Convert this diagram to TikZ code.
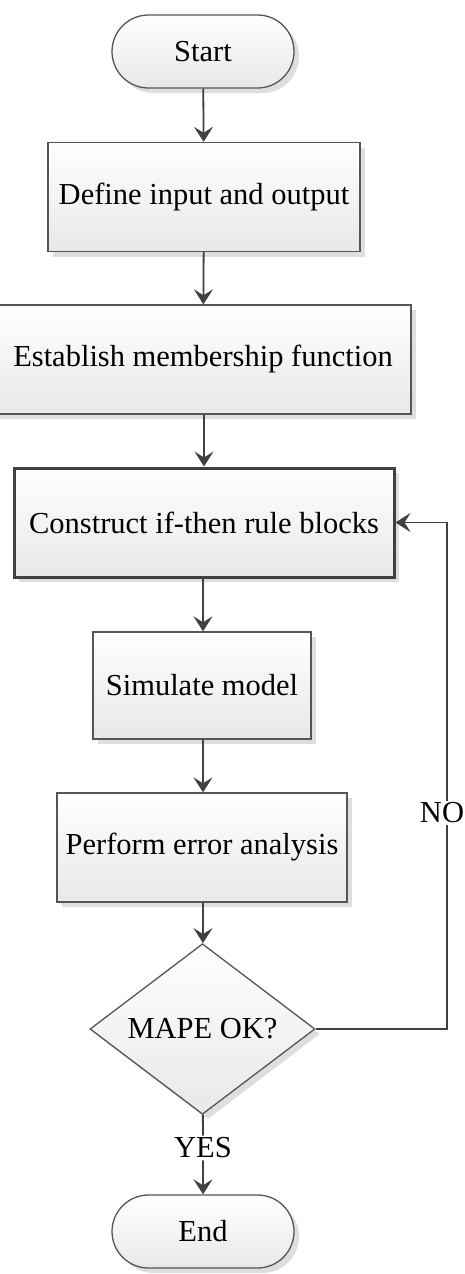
\documentclass[tikz,border=0pt]{standalone}
\usepackage{fontspec}
\setmainfont{Liberation Serif}
\usetikzlibrary{shapes.misc,shapes.geometric,arrows.meta,shadows}
\definecolor{lc}{HTML}{404040}
\definecolor{bc}{HTML}{555555}
\begin{document}
\begin{tikzpicture}[x=1pt,y=-1pt,
  base/.style={draw=bc, line width=1.3pt, top color=white, bottom color=black!9,
    font=\fontsize{30.5}{36}\selectfont, inner sep=0pt, align=center,
    drop shadow={shadow xshift=5pt, shadow yshift=-5pt, fill=black!13, opacity=1}},
  term/.style={base, rounded rectangle, minimum width=182pt, minimum height=73pt},
  proc/.style={base, rectangle, minimum height=109pt},
  dec/.style={base, diamond, minimum width=225pt, minimum height=142pt},
  arr/.style={draw=lc, line width=1.8pt, -{Stealth[length=15pt,width=19pt,inset=6pt]}},
  ln/.style={draw=lc, line width=1.8pt},
  lbl/.style={fill=white, inner sep=2pt, font=\fontsize{30.5}{36}\selectfont}]
\useasboundingbox (0,0) rectangle (465,1274);
\fill[white] (0,0) rectangle (465,1274);
\node[term] (start) at (203,51.5) {Start};
\node[proc, minimum width=312pt] (define) at (204,197) {Define input and output};
\node[proc, minimum width=416pt] (establish) at (203,359.5) {Establish membership function};
\node[proc, minimum width=380pt, draw=lc, line width=3pt] (construct) at (204,522.5) {Construct if-then rule blocks};
\node[proc, minimum width=218pt, minimum height=107pt] (simulate) at (202,685.5) {Simulate model};
\node[proc, minimum width=290pt] (perform) at (202,847.5) {Perform error analysis};
\node[dec] (decision) at (202.5,1029) {MAPE OK?};
\node[term] (end) at (203,1231.5) {End};
\node[lbl] (yes) at (203,1148) {YES};
\node[lbl] (no) at (442,813) {NO};
\coordinate (c1) at (447,1029);
\coordinate (c2) at (447,522.5);
\draw[arr] (start) -- (define);
\draw[arr] (define) -- (establish);
\draw[arr] (establish.south -| construct.north) -- (construct);
\draw[arr] (construct.south -| establish.south) -- (simulate.north -| establish.south);
\draw[arr] (simulate.south -| establish.south) -- (perform.north -| establish.south);
\draw[arr] (perform.south -| establish.south) -- (decision.north -| establish.south);
\draw[ln] (decision) -- (yes);
\draw[arr] (yes) -- (end);
\draw[ln] (decision.east) -- (c1) -- (c1 |- no.south);
\draw[arr] (c2 |- no.north) -- (c2) -- (construct.east);
\end{tikzpicture}
\end{document}
